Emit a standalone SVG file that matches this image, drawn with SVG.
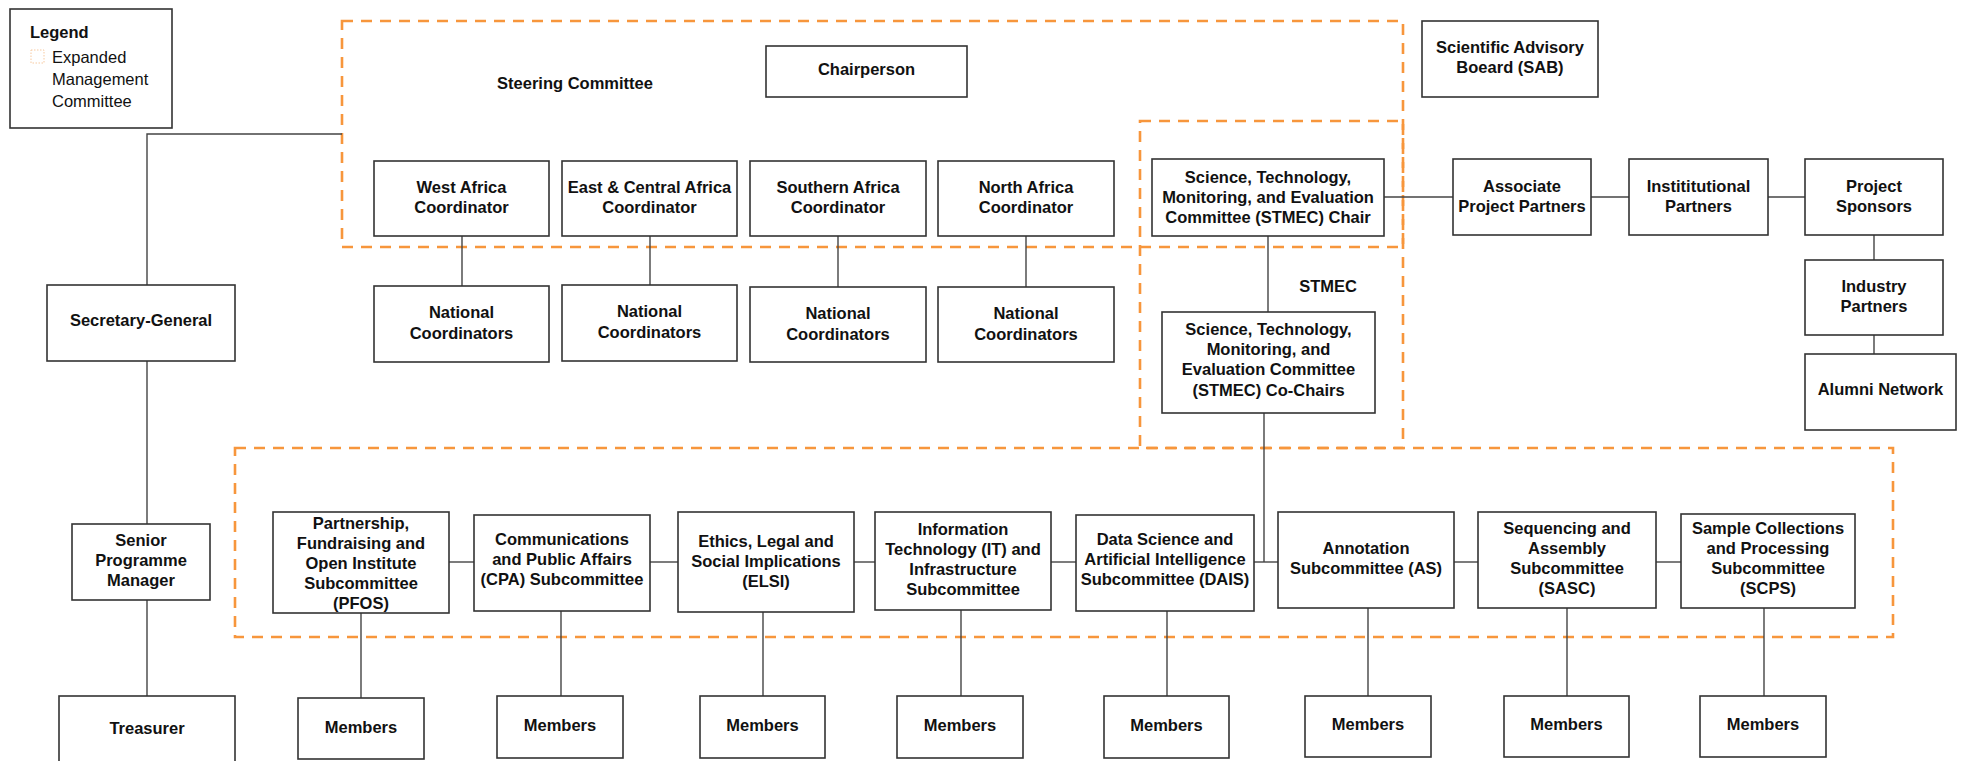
<svg xmlns="http://www.w3.org/2000/svg" width="1969" height="761" viewBox="0 0 1969 761">
<style>
.n rect{fill:#fff;stroke:#333;stroke-width:1.6}
text{font-family:"Liberation Sans",Arial,sans-serif;font-size:16.5px;fill:#111}
.b{font-weight:bold}
.c{text-anchor:middle}
.dash{fill:none;stroke:#F7963C;stroke-width:2.6;stroke-dasharray:11 8}
#connectors line,#connectors polyline{stroke:#444;stroke-width:1.4;fill:none}
</style>
<rect width="1969" height="761" fill="#fff"/>
<g id="groups">
<rect class="dash" x="342" y="21" width="1061" height="226"/>
<rect class="dash" x="1140" y="121" width="263" height="327"/>
<rect class="dash" x="235" y="448" width="1658" height="189"/>
</g>
<g id="connectors">
<polyline points="342,134 147,134 147,285"/>
<line x1="147" y1="361" x2="147" y2="524"/>
<line x1="147" y1="600" x2="147" y2="696"/>
<line x1="462" y1="236" x2="462" y2="286"/>
<line x1="650" y1="236" x2="650" y2="285"/>
<line x1="838" y1="236" x2="838" y2="287"/>
<line x1="1026" y1="236" x2="1026" y2="287"/>
<line x1="1268" y1="236" x2="1268" y2="312"/>
<line x1="1384" y1="197" x2="1453" y2="197"/>
<line x1="1591" y1="197" x2="1629" y2="197"/>
<line x1="1768" y1="197" x2="1805" y2="197"/>
<line x1="1874" y1="235" x2="1874" y2="260"/>
<line x1="1874" y1="335" x2="1874" y2="354"/>
<line x1="1264" y1="413" x2="1264" y2="562"/>
<line x1="449" y1="562" x2="474" y2="562"/>
<line x1="650" y1="562" x2="678" y2="562"/>
<line x1="854" y1="562" x2="875" y2="562"/>
<line x1="1051" y1="562" x2="1076" y2="562"/>
<line x1="1254" y1="562" x2="1278" y2="562"/>
<line x1="1454" y1="562" x2="1478" y2="562"/>
<line x1="1656" y1="562" x2="1681" y2="562"/>
<line x1="361" y1="613" x2="361" y2="698"/>
<line x1="561" y1="611" x2="561" y2="696"/>
<line x1="763" y1="612" x2="763" y2="696"/>
<line x1="961" y1="610" x2="961" y2="696"/>
<line x1="1167" y1="611" x2="1167" y2="696"/>
<line x1="1368" y1="608" x2="1368" y2="696"/>
<line x1="1567" y1="608" x2="1567" y2="696"/>
<line x1="1764" y1="608" x2="1764" y2="696"/>
</g>
<g id="legend" class="n">
<rect x="10" y="9" width="162" height="119"/>
<text class="b" x="30" y="38">Legend</text>
<rect x="31" y="50" width="13" height="13" style="fill:#fff;stroke:#F7C9A0;stroke-width:1;stroke-dasharray:1.5 1.5"/>
<text x="52" y="63">Expanded</text>
<text x="52" y="85">Management</text>
<text x="52" y="107">Committee</text>
</g>
<g id="steering-label"><text class="b c" x="575" y="89">Steering Committee</text></g>
<g id="stmec-label"><text class="b c" x="1328" y="292">STMEC</text></g>
<g id="chairperson" class="n"><rect x="766" y="46" width="201" height="51"/><text class="b c" x="866.5" y="75">Chairperson</text></g>
<g id="sab" class="n"><rect x="1422" y="21" width="176" height="76"/><text class="b c" x="1510" y="53">Scientific Advisory</text><text class="b c" x="1510" y="73">Boeard (SAB)</text></g>
<g id="west" class="n"><rect x="374" y="161" width="175" height="75"/><text class="b c" x="461.5" y="193">West Africa</text><text class="b c" x="461.5" y="213">Coordinator</text></g>
<g id="east" class="n"><rect x="562" y="161" width="175" height="75"/><text class="b c" x="649.5" y="193">East &amp; Central Africa</text><text class="b c" x="649.5" y="213">Coordinator</text></g>
<g id="southern" class="n"><rect x="750" y="161" width="176" height="75"/><text class="b c" x="838" y="193">Southern Africa</text><text class="b c" x="838" y="213">Coordinator</text></g>
<g id="north" class="n"><rect x="938" y="161" width="176" height="75"/><text class="b c" x="1026" y="193">North Africa</text><text class="b c" x="1026" y="213">Coordinator</text></g>
<g id="nat-west" class="n"><rect x="374" y="286" width="175" height="76"/><text class="b c" x="461.5" y="318">National</text><text class="b c" x="461.5" y="339">Coordinators</text></g>
<g id="nat-east" class="n"><rect x="562" y="285" width="175" height="76"/><text class="b c" x="649.5" y="317">National</text><text class="b c" x="649.5" y="338">Coordinators</text></g>
<g id="nat-south" class="n"><rect x="750" y="287" width="176" height="75"/><text class="b c" x="838" y="319">National</text><text class="b c" x="838" y="340">Coordinators</text></g>
<g id="nat-north" class="n"><rect x="938" y="287" width="176" height="75"/><text class="b c" x="1026" y="319">National</text><text class="b c" x="1026" y="340">Coordinators</text></g>
<g id="stmec-chair" class="n"><rect x="1152" y="159" width="232" height="77"/><text class="b c" x="1268" y="183">Science, Technology,</text><text class="b c" x="1268" y="203">Monitoring, and Evaluation</text><text class="b c" x="1268" y="223">Committee (STMEC) Chair</text></g>
<g id="stmec-cochairs" class="n"><rect x="1162" y="312" width="213" height="101"/><text class="b c" x="1268.5" y="335">Science, Technology,</text><text class="b c" x="1268.5" y="355">Monitoring, and</text><text class="b c" x="1268.5" y="375">Evaluation Committee</text><text class="b c" x="1268.5" y="396">(STMEC) Co-Chairs</text></g>
<g id="associate" class="n"><rect x="1453" y="159" width="138" height="76"/><text class="b c" x="1522" y="192">Associate</text><text class="b c" x="1522" y="212">Project Partners</text></g>
<g id="institutional" class="n"><rect x="1629" y="159" width="139" height="76"/><text class="b c" x="1698.5" y="192">Instititutional</text><text class="b c" x="1698.5" y="212">Partners</text></g>
<g id="sponsors" class="n"><rect x="1805" y="159" width="138" height="76"/><text class="b c" x="1874" y="192">Project</text><text class="b c" x="1874" y="212">Sponsors</text></g>
<g id="industry" class="n"><rect x="1805" y="260" width="138" height="75"/><text class="b c" x="1874" y="292">Industry</text><text class="b c" x="1874" y="312">Partners</text></g>
<g id="alumni" class="n"><rect x="1805" y="354" width="151" height="76"/><text class="b c" x="1880.5" y="395">Alumni Network</text></g>
<g id="secgen" class="n"><rect x="47" y="285" width="188" height="76"/><text class="b c" x="141" y="326">Secretary-General</text></g>
<g id="spm" class="n"><rect x="72" y="524" width="138" height="76"/><text class="b c" x="141" y="546">Senior</text><text class="b c" x="141" y="566">Programme</text><text class="b c" x="141" y="586">Manager</text></g>
<g id="treasurer" class="n"><rect x="59" y="696" width="176" height="80"/><text class="b c" x="147" y="734">Treasurer</text></g>
<g id="pfos" class="n"><rect x="273" y="512" width="176" height="101"/><text class="b c" x="361" y="529">Partnership,</text><text class="b c" x="361" y="549">Fundraising and</text><text class="b c" x="361" y="569">Open Institute</text><text class="b c" x="361" y="589">Subcommittee</text><text class="b c" x="361" y="609">(PFOS)</text></g>
<g id="cpa" class="n"><rect x="474" y="515" width="176" height="96"/><text class="b c" x="562" y="545">Communications</text><text class="b c" x="562" y="565">and Public Affairs</text><text class="b c" x="562" y="585">(CPA) Subcommittee</text></g>
<g id="elsi" class="n"><rect x="678" y="512" width="176" height="100"/><text class="b c" x="766" y="547">Ethics, Legal and</text><text class="b c" x="766" y="567">Social Implications</text><text class="b c" x="766" y="587">(ELSI)</text></g>
<g id="it" class="n"><rect x="875" y="512" width="176" height="98"/><text class="b c" x="963" y="535">Information</text><text class="b c" x="963" y="555">Technology (IT) and</text><text class="b c" x="963" y="575">Infrastructure</text><text class="b c" x="963" y="595">Subcommittee</text></g>
<g id="dais" class="n"><rect x="1076" y="515" width="178" height="96"/><text class="b c" x="1165" y="545">Data Science and</text><text class="b c" x="1165" y="565">Artificial Intelligence</text><text class="b c" x="1165" y="585">Subcommittee (DAIS)</text></g>
<g id="as" class="n"><rect x="1278" y="512" width="176" height="96"/><text class="b c" x="1366" y="554">Annotation</text><text class="b c" x="1366" y="574">Subcommittee (AS)</text></g>
<g id="sasc" class="n"><rect x="1478" y="512" width="178" height="96"/><text class="b c" x="1567" y="534">Sequencing and</text><text class="b c" x="1567" y="554">Assembly</text><text class="b c" x="1567" y="574">Subcommittee</text><text class="b c" x="1567" y="594">(SASC)</text></g>
<g id="scps" class="n"><rect x="1681" y="514" width="174" height="94"/><text class="b c" x="1768" y="534">Sample Collections</text><text class="b c" x="1768" y="554">and Processing</text><text class="b c" x="1768" y="574">Subcommittee</text><text class="b c" x="1768" y="594">(SCPS)</text></g>
<g id="m-pfos" class="n"><rect x="298" y="698" width="126" height="61"/><text class="b c" x="361" y="733">Members</text></g>
<g id="m-cpa" class="n"><rect x="497" y="696" width="126" height="62"/><text class="b c" x="560" y="731">Members</text></g>
<g id="m-elsi" class="n"><rect x="700" y="696" width="125" height="62"/><text class="b c" x="762.5" y="731">Members</text></g>
<g id="m-it" class="n"><rect x="897" y="696" width="126" height="62"/><text class="b c" x="960" y="731">Members</text></g>
<g id="m-dais" class="n"><rect x="1104" y="696" width="125" height="62"/><text class="b c" x="1166.5" y="731">Members</text></g>
<g id="m-as" class="n"><rect x="1305" y="696" width="126" height="61"/><text class="b c" x="1368" y="730">Members</text></g>
<g id="m-sasc" class="n"><rect x="1504" y="696" width="125" height="61"/><text class="b c" x="1566.5" y="730">Members</text></g>
<g id="m-scps" class="n"><rect x="1700" y="696" width="126" height="61"/><text class="b c" x="1763" y="730">Members</text></g>
</svg>
